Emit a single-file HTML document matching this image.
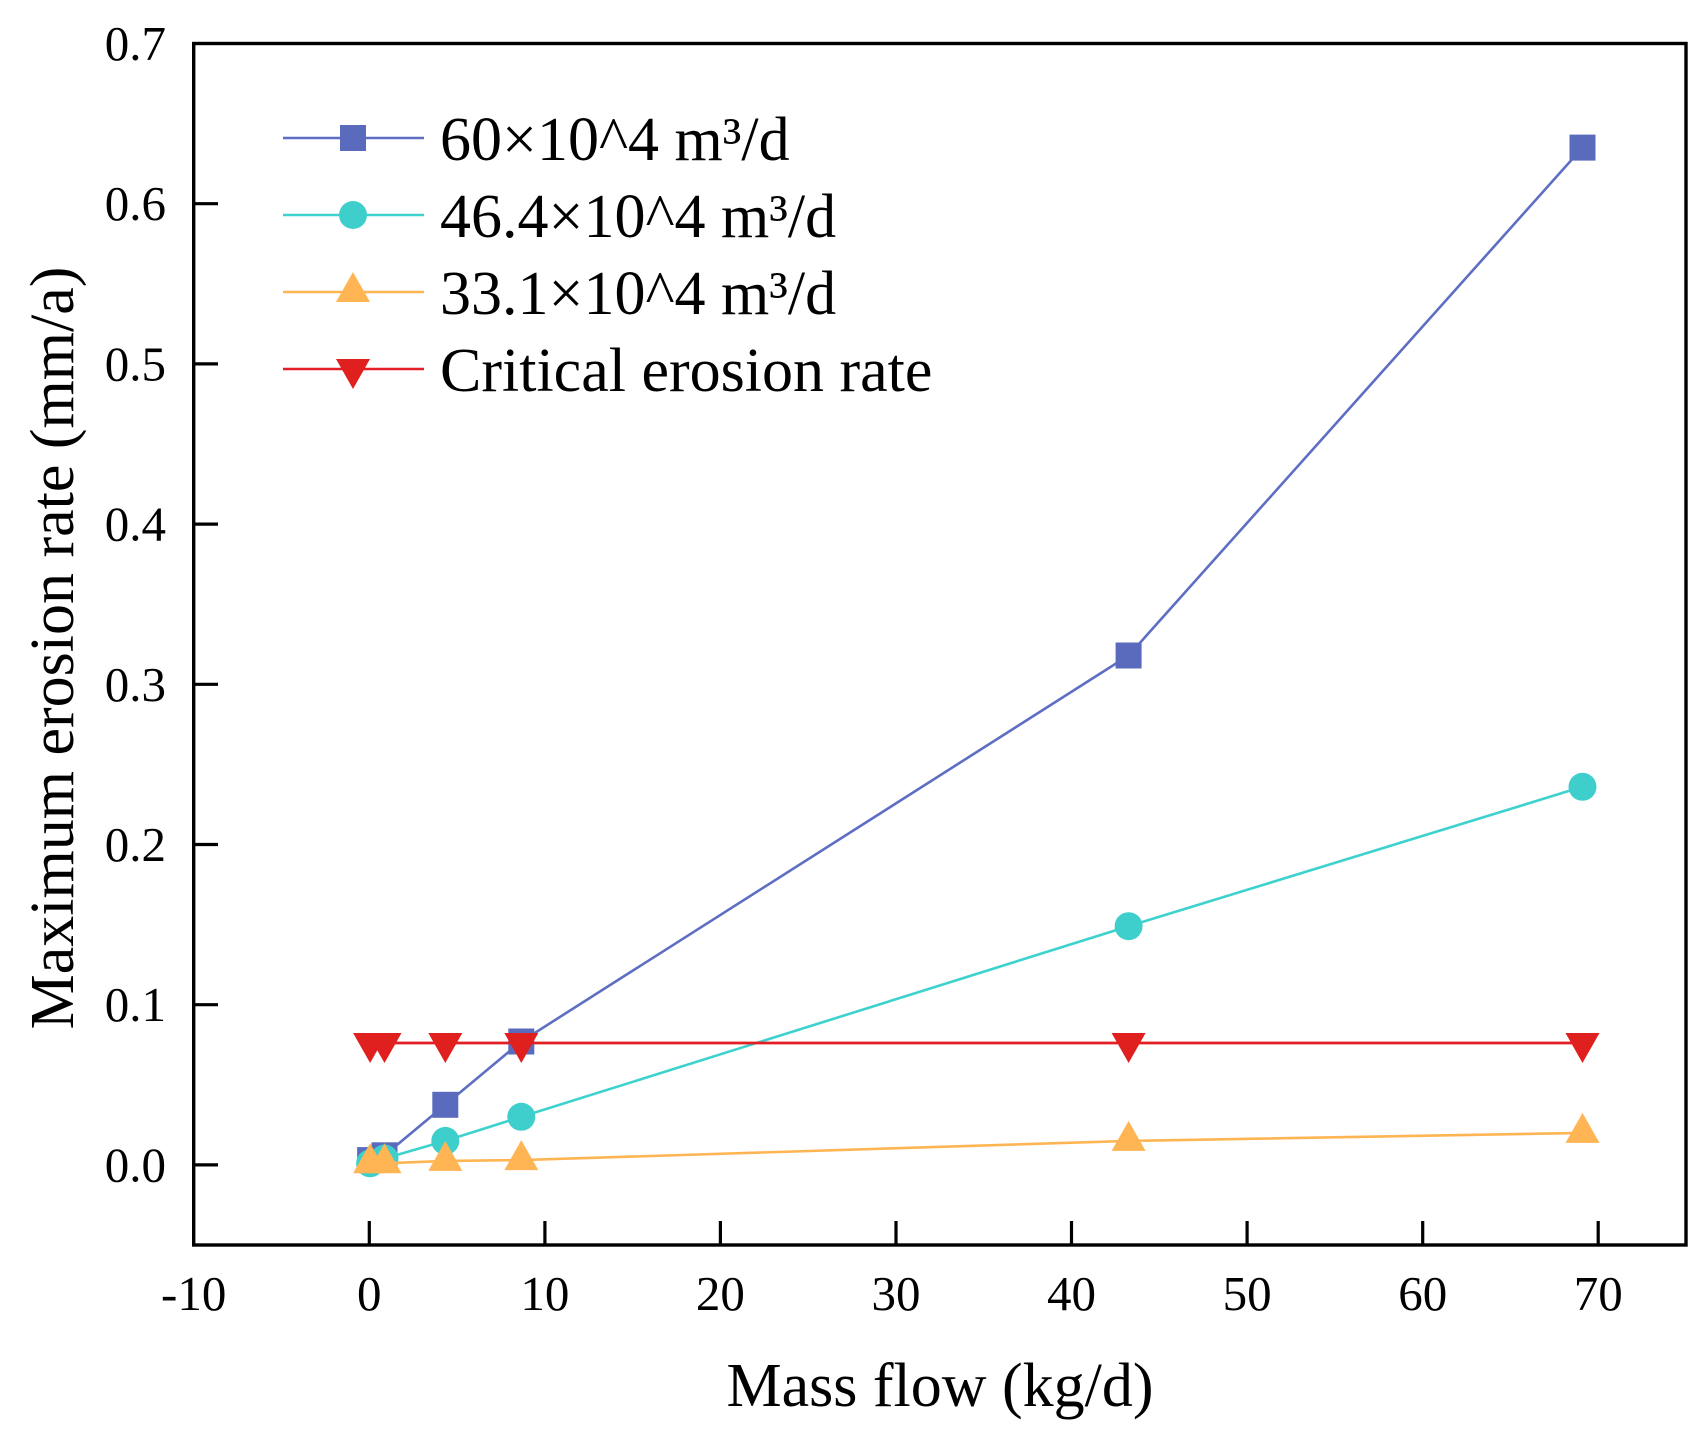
<!DOCTYPE html>
<html>
<head>
<meta charset="utf-8">
<style>
html,body{margin:0;padding:0;background:#fff;}
svg{display:block;}
text{font-family:"Liberation Serif","Times New Roman",serif;fill:#000;}
</style>
</head>
<body>
<svg width="1708" height="1436" viewBox="0 0 1708 1436" xmlns="http://www.w3.org/2000/svg">
<rect width="1708" height="1436" fill="#fff"/>

<!-- ticks -->
<g stroke="#000" stroke-width="3.2">
  <line x1="369.3" y1="1245" x2="369.3" y2="1221"/>
  <line x1="544.9" y1="1245" x2="544.9" y2="1221"/>
  <line x1="720.4" y1="1245" x2="720.4" y2="1221"/>
  <line x1="896" y1="1245" x2="896" y2="1221"/>
  <line x1="1071.5" y1="1245" x2="1071.5" y2="1221"/>
  <line x1="1247.1" y1="1245" x2="1247.1" y2="1221"/>
  <line x1="1422.7" y1="1245" x2="1422.7" y2="1221"/>
  <line x1="1598.2" y1="1245" x2="1598.2" y2="1221"/>
  <line x1="194" y1="1164.9" x2="218" y2="1164.9"/>
  <line x1="194" y1="1004.7" x2="218" y2="1004.7"/>
  <line x1="194" y1="844.5" x2="218" y2="844.5"/>
  <line x1="194" y1="684.3" x2="218" y2="684.3"/>
  <line x1="194" y1="524.1" x2="218" y2="524.1"/>
  <line x1="194" y1="363.9" x2="218" y2="363.9"/>
  <line x1="194" y1="203.7" x2="218" y2="203.7"/>
</g>

<!-- frame -->
<rect x="193.7" y="43.5" width="1492.3" height="1201.5" fill="none" stroke="#000" stroke-width="3.4"/>

<!-- tick labels -->
<g font-size="49" text-anchor="middle">
  <text x="193.7" y="1310">-10</text>
  <text x="369.3" y="1310">0</text>
  <text x="544.9" y="1310">10</text>
  <text x="720.4" y="1310">20</text>
  <text x="896" y="1310">30</text>
  <text x="1071.5" y="1310">40</text>
  <text x="1247.1" y="1310">50</text>
  <text x="1422.7" y="1310">60</text>
  <text x="1598.2" y="1310">70</text>
</g>
<g font-size="49" text-anchor="end">
  <text x="166" y="1181.4">0.0</text>
  <text x="166" y="1021.2">0.1</text>
  <text x="166" y="861">0.2</text>
  <text x="166" y="700.8">0.3</text>
  <text x="166" y="540.6">0.4</text>
  <text x="166" y="380.4">0.5</text>
  <text x="166" y="220.2">0.6</text>
  <text x="166" y="60">0.7</text>
</g>

<!-- axis titles -->
<text x="940" y="1406" font-size="62" text-anchor="middle">Mass flow (kg/d)</text>
<text transform="translate(73,648) rotate(-90)" font-size="62" text-anchor="middle">Maximum erosion rate (mm/a)</text>

<!-- series: blue squares -->
<polyline fill="none" stroke="#5E6EC2" stroke-width="2.6" points="370.1,1160.1 384.5,1155.3 445.3,1104.8 521.3,1041.5 1128.6,655.5 1582.5,147.6"/>
<g fill="#5A6BBE">
  <rect x="357.1" y="1147.1" width="26" height="26"/>
  <rect x="371.5" y="1142.3" width="26" height="26"/>
  <rect x="432.3" y="1091.8" width="26" height="26"/>
  <rect x="508.3" y="1028.5" width="26" height="26"/>
  <rect x="1115.6" y="642.5" width="26" height="26"/>
  <rect x="1569.5" y="134.6" width="26" height="26"/>
</g>

<!-- series: cyan circles -->
<polyline fill="none" stroke="#3DD2CE" stroke-width="2.6" points="370.1,1163.3 384.5,1158.5 445.3,1140.9 521.3,1116.8 1128.6,926.2 1582.5,786.8"/>
<g fill="#3ECFCC">
  <circle cx="370.1" cy="1163.3" r="14"/>
  <circle cx="384.5" cy="1158.5" r="14"/>
  <circle cx="445.3" cy="1140.9" r="14"/>
  <circle cx="521.3" cy="1116.8" r="14"/>
  <circle cx="1128.6" cy="926.2" r="14"/>
  <circle cx="1582.5" cy="786.8" r="14"/>
</g>

<!-- series: orange triangles -->
<polyline fill="none" stroke="#FFB553" stroke-width="2.6" points="370.1,1163.3 384.5,1163.3 445.3,1160.9 521.3,1160.1 1128.6,1140.9 1582.5,1132.9"/>
<g fill="#FFB553">
  <polygon points="370.1,1143.3 353.1,1173.3 387.1,1173.3"/>
  <polygon points="384.5,1143.3 367.5,1173.3 401.5,1173.3"/>
  <polygon points="445.3,1140.9 428.3,1170.9 462.3,1170.9"/>
  <polygon points="521.3,1140.1 504.3,1170.1 538.3,1170.1"/>
  <polygon points="1128.6,1120.9 1111.6,1150.9 1145.6,1150.9"/>
  <polygon points="1582.5,1112.9 1565.5,1142.9 1599.5,1142.9"/>
</g>

<!-- series: red inverted triangles -->
<polyline fill="none" stroke="#E31E24" stroke-width="2.8" points="370.1,1043 384.5,1043 445.3,1043 521.3,1043 1128.6,1043 1582.5,1043"/>
<g fill="#E0201F">
  <polygon points="353.1,1033 387.1,1033 370.1,1063"/>
  <polygon points="367.5,1033 401.5,1033 384.5,1063"/>
  <polygon points="428.3,1033 462.3,1033 445.3,1063"/>
  <polygon points="504.3,1033 538.3,1033 521.3,1063"/>
  <polygon points="1111.6,1033 1145.6,1033 1128.6,1063"/>
  <polygon points="1565.5,1033 1599.5,1033 1582.5,1063"/>
</g>

<!-- legend -->
<line x1="283" y1="138" x2="424" y2="138" stroke="#5E6EC2" stroke-width="2.4"/>
<rect x="340" y="125" width="26" height="26" fill="#5A6BBE"/>
<text x="440" y="160" font-size="62">60×10^4 m³/d</text>

<line x1="283" y1="215" x2="424" y2="215" stroke="#3DD2CE" stroke-width="2.4"/>
<circle cx="353" cy="215" r="14" fill="#3ECFCC"/>
<text x="440" y="237" font-size="62">46.4×10^4 m³/d</text>

<line x1="283" y1="292" x2="424" y2="292" stroke="#FFB553" stroke-width="2.4"/>
<polygon points="353,272 336,302 370,302" fill="#FFB553"/>
<text x="440" y="314" font-size="62">33.1×10^4 m³/d</text>

<line x1="283" y1="369" x2="424" y2="369" stroke="#E31E24" stroke-width="2.4"/>
<polygon points="336,359 370,359 353,389" fill="#E0201F"/>
<text x="440" y="391" font-size="62">Critical erosion rate</text>
</svg>
</body>
</html>
